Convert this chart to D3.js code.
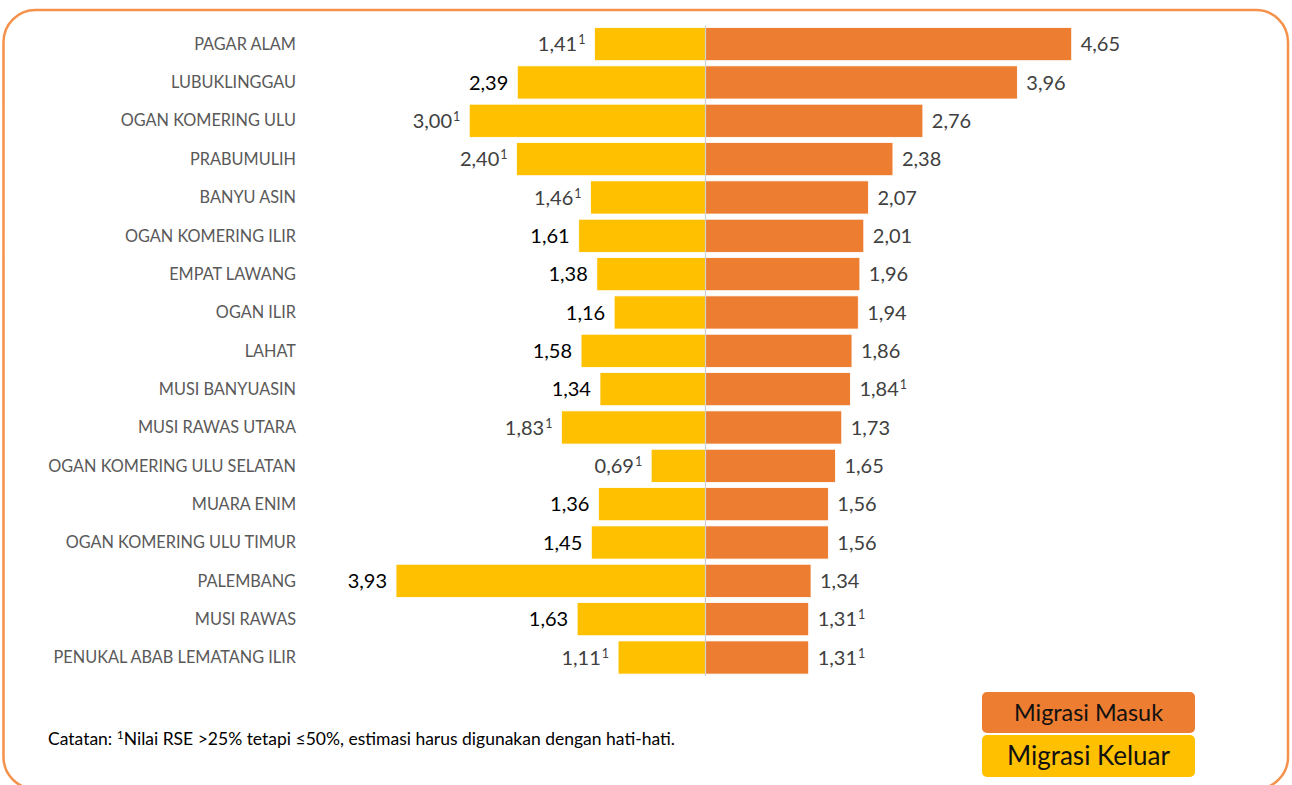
<!DOCTYPE html>
<html><head><meta charset="utf-8">
<script src="https://cdn.jsdelivr.net/npm/d3@7"></script>
<style>
html,body{margin:0;padding:0;background:#fff;}
svg{display:block;font-family:Lato,"Noto Sans",sans-serif;}
</style></head>
<body>
<svg id="chart" width="1292" height="785"></svg>
<script>
const categories = ["PAGAR ALAM","LUBUKLINGGAU","OGAN KOMERING ULU","PRABUMULIH","BANYU ASIN","OGAN KOMERING ILIR","EMPAT LAWANG","OGAN ILIR","LAHAT","MUSI BANYUASIN","MUSI RAWAS UTARA","OGAN KOMERING ULU SELATAN","MUARA ENIM","OGAN KOMERING ULU TIMUR","PALEMBANG","MUSI RAWAS","PENUKAL ABAB LEMATANG ILIR"];
const migrasiMasuk = [4.65,3.96,2.76,2.38,2.07,2.01,1.96,1.94,1.86,1.84,1.73,1.65,1.56,1.56,1.34,1.31,1.31];
const migrasiKeluar = [1.41,2.39,3.00,2.40,1.46,1.61,1.38,1.16,1.58,1.34,1.83,0.69,1.36,1.45,3.93,1.63,1.11];
const masukFlag = [0,0,0,0,0,0,0,0,0,1,0,0,0,0,0,1,1];
const keluarFlag = [1,0,1,1,1,0,0,0,0,0,1,1,0,0,0,0,1];
const legendLabels = ["Migrasi Masuk","Migrasi Keluar"];
const notePrefix = "Catatan: ";
const noteSup = "1";
const noteBody = "Nilai RSE >25% tetapi \u226450%, estimasi harus digunakan dengan hati-hati.";

const ORANGE = "#ED7D31", YELLOW = "#FFC000";
const svg = d3.select("#chart");
const cx = 705.5;
const pxPerUnit = 78.75;

// border
svg.append("rect").attr("x",3.5).attr("y",10).attr("width",1284.5).attr("height",779)
  .attr("rx",32).attr("ry",32).attr("fill","none").attr("stroke","#F5914A").attr("stroke-width",2.5);

const y = d3.scaleBand().domain(categories).range([25.6, 676]).paddingInner(0.135).paddingOuter(0.05);
const xL = d3.scaleLinear().domain([0,5]).range([cx, cx - 5*pxPerUnit]);
const xR = d3.scaleLinear().domain([0,5]).range([cx, cx + 5*pxPerUnit]);

const data = categories.map((c,i)=>({c, m:migrasiMasuk[i], k:migrasiKeluar[i], mf:masukFlag[i], kf:keluarFlag[i]}));
const fmt = v => d3.format(".2f")(v).replace(".", ",");

// left bars
svg.append("g").selectAll("rect").data(data).join("rect")
  .attr("x", d=>xL(d.k)).attr("y", d=>y(d.c))
  .attr("width", d=>xL(0)-xL(d.k)).attr("height", y.bandwidth())
  .attr("fill", YELLOW).attr("stroke","#fff").attr("stroke-width",0.8);
// right bars
svg.append("g").selectAll("rect").data(data).join("rect")
  .attr("x", xR(0)).attr("y", d=>y(d.c))
  .attr("width", d=>xR(d.m)-xR(0)).attr("height", y.bandwidth())
  .attr("fill", ORANGE).attr("stroke","#fff").attr("stroke-width",0.8);

// center line
svg.append("line").attr("x1",cx).attr("x2",cx).attr("y1",y.range()[0]).attr("y2",y.range()[1])
  .attr("stroke","#d0d0d0").attr("stroke-width",1.2);

// category labels
const yAxis = d3.axisLeft(y).tickSize(0).tickPadding(0);
const gA = svg.append("g").attr("transform","translate(296,0)").call(yAxis);
gA.select(".domain").remove();
gA.selectAll("text").attr("font-size",16.3).attr("fill","#595959").attr("font-family","Lato, sans-serif").attr("dy","0.35em");

// left values
const lv = svg.append("g").selectAll("text").data(data).join("text")
  .attr("x", d=>xL(d.k) - 9).attr("y", d=>y(d.c)+y.bandwidth()/2).attr("dy","0.36em")
  .attr("text-anchor","end").attr("font-size",20)
  .attr("fill", d=>d.kf ? "#404040" : "#000");
lv.append("tspan").text(d=>fmt(d.k));
lv.filter(d=>d.kf).append("tspan").attr("font-size",12.5).attr("dy","-0.55em").attr("dx","1").text("1");

// right values
const rv = svg.append("g").selectAll("text").data(data).join("text")
  .attr("x", d=>xR(d.m) + 9).attr("y", d=>y(d.c)+y.bandwidth()/2).attr("dy","0.36em")
  .attr("text-anchor","start").attr("font-size",20).attr("fill","#404040");
rv.append("tspan").text(d=>fmt(d.m));
rv.filter(d=>d.mf).append("tspan").attr("font-size",12.5).attr("dy","-0.55em").attr("dx","1").text("1");

// note
const nt = svg.append("text").attr("x",48).attr("y",745).attr("font-size",17.5).attr("fill","#000");
nt.append("tspan").text(notePrefix);
nt.append("tspan").attr("font-size",12).attr("dy","-6").text(noteSup);
nt.append("tspan").attr("dy","6").text(noteBody);

// legend
const lg = svg.append("g");
const boxes = [{t:legendLabels[0], c:ORANGE, y:692, h:41, fs:23.4},{t:legendLabels[1], c:YELLOW, y:735, h:42, fs:26}];
boxes.forEach(b=>{
  lg.append("rect").attr("x",982).attr("y",b.y).attr("width",213).attr("height",b.h).attr("rx",5).attr("fill",b.c);
  lg.append("text").attr("x",1088.5).attr("y",b.y+b.h/2).attr("dy","0.36em").attr("text-anchor","middle")
    .attr("font-size",b.fs).attr("fill","#111").text(b.t);
});
</script>
</body></html>
